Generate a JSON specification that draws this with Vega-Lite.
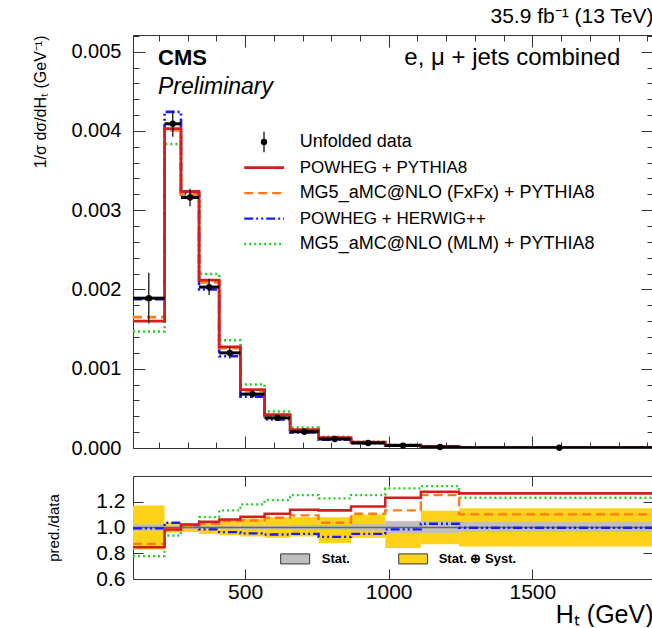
{
"$schema":"https://vega.github.io/schema/vega-lite/v6.json",
"background":"white",
"padding":{"left":32,"top":5,"right":0,"bottom":0},
"config":{"font":"Liberation Sans","view":{"stroke":null},
 "axis":{"grid":false,"labelFont":"Liberation Sans","titleFont":"Liberation Sans","titleFontWeight":"normal","labelColor":"#000","titleColor":"#000","domainColor":"#333","tickColor":"#333","domainWidth":1,"tickWidth":1,"labelFontSize":20},
 "title":{"font":"Liberation Sans","fontWeight":"normal","color":"#000"}},
"datasets":{"bins":[
{"bin":1,"lo":110,"hi":220,"xc":165,"d":0.00189,"dlo":0.001569,"dhi":0.002211,"pp":0.001601,"mf":0.00165,"ph":0.001877,"mm":0.001469,"rpp":0.847,"rmf":0.873,"rph":0.993,"rmm":0.777,"slo":0.975,"shi":1.025,"tlo":0.83,"thi":1.17},
{"bin":2,"lo":220,"hi":277,"xc":248.5,"d":0.00409,"dlo":0.003926,"dhi":0.004254,"pp":0.004029,"mf":0.004008,"ph":0.004241,"mm":0.003836,"rpp":0.985,"rmf":0.98,"rph":1.037,"rmm":0.938,"slo":0.99,"shi":1.01,"tlo":0.96,"thi":1.04},
{"bin":3,"lo":277,"hi":340,"xc":308.5,"d":0.00316,"dlo":0.003049,"dhi":0.003271,"pp":0.003236,"mf":0.003195,"ph":0.003217,"mm":0.003192,"rpp":1.024,"rmf":1.011,"rph":1.018,"rmm":1.01,"slo":0.99,"shi":1.01,"tlo":0.965,"thi":1.035},
{"bin":4,"lo":340,"hi":410,"xc":375,"d":0.00203,"dlo":0.001929,"dhi":0.002132,"pp":0.002119,"mf":0.002089,"ph":0.002,"mm":0.002194,"rpp":1.044,"rmf":1.029,"rph":0.985,"rmm":1.081,"slo":0.99,"shi":1.01,"tlo":0.95,"thi":1.05},
{"bin":5,"lo":410,"hi":484,"xc":447,"d":0.0012,"dlo":0.001128,"dhi":0.001272,"pp":0.001276,"mf":0.00126,"ph":0.001157,"mm":0.00136,"rpp":1.063,"rmf":1.05,"rph":0.964,"rmm":1.133,"slo":0.99,"shi":1.01,"tlo":0.94,"thi":1.06},
{"bin":6,"lo":484,"hi":568,"xc":526,"d":0.00068,"dlo":0.000632,"dhi":0.000728,"pp":0.000736,"mf":0.000717,"ph":0.000649,"mm":0.000802,"rpp":1.083,"rmf":1.055,"rph":0.954,"rmm":1.18,"slo":0.985,"shi":1.015,"tlo":0.93,"thi":1.07},
{"bin":7,"lo":568,"hi":657,"xc":612.5,"d":0.00038,"dlo":0.00035,"dhi":0.00041,"pp":0.000421,"mf":0.0004085,"ph":0.000359,"mm":0.000461,"rpp":1.107,"rmf":1.075,"rph":0.946,"rmm":1.213,"slo":0.985,"shi":1.015,"tlo":0.92,"thi":1.08},
{"bin":8,"lo":657,"hi":756,"xc":706.5,"d":0.000205,"dlo":0.000191,"dhi":0.000221,"pp":0.000233,"mf":0.000224,"ph":0.000195,"mm":0.000257,"rpp":1.138,"rmf":1.094,"rph":0.95,"rmm":1.252,"slo":0.98,"shi":1.02,"tlo":0.93,"thi":1.08},
{"bin":9,"lo":756,"hi":869,"xc":812.5,"d":0.000114,"dlo":0.0001,"dhi":0.000123,"pp":0.000129,"mf":0.000118,"ph":0.0001057,"mm":0.00014,"rpp":1.133,"rmf":1.037,"rph":0.927,"rmm":1.226,"slo":0.98,"shi":1.02,"tlo":0.88,"thi":1.08},
{"bin":10,"lo":869,"hi":988,"xc":928.5,"d":0.000063,"dlo":0.000058,"dhi":0.000069,"pp":0.0000733,"mf":0.0000697,"ph":0.0000599,"mm":0.0000789,"rpp":1.164,"rmf":1.107,"rph":0.95,"rmm":1.252,"slo":0.975,"shi":1.025,"tlo":0.92,"thi":1.1},
{"bin":11,"lo":988,"hi":1112,"xc":1050,"d":0.00003,"dlo":0.000025,"dhi":0.0000315,"pp":0.0000369,"mf":0.000034,"ph":0.0000296,"mm":0.0000391,"rpp":1.231,"rmf":1.133,"rph":0.985,"rmm":1.304,"slo":0.955,"shi":1.045,"tlo":0.84,"thi":1.05},
{"bin":12,"lo":1112,"hi":1245,"xc":1178.5,"d":0.000013,"dlo":0.0000113,"dhi":0.0000147,"pp":0.0000166,"mf":0.0000163,"ph":0.0000134,"mm":0.0000172,"rpp":1.278,"rmf":1.252,"rph":1.029,"rmm":1.322,"slo":0.955,"shi":1.05,"tlo":0.87,"thi":1.13},
{"bin":13,"lo":1245,"hi":2000,"xc":1594,"d":0.0000035,"dlo":0.000003,"dhi":0.000004,"pp":0.0000044,"mf":0.0000039,"ph":0.0000035,"mm":0.0000043,"rpp":1.265,"rmf":1.102,"rph":0.998,"rmm":1.231,"slo":0.966,"shi":1.044,"tlo":0.853,"thi":1.149}
]},
"spacing":28,
"bounds":"flush",
"vconcat":[
{
"width":520,"height":413,
"title":{"text":"35.9 fb⁻¹ (13 TeV)","anchor":"end","fontSize":21,"offset":8},
"data":{"name":"bins"},
"layer":[
 {"transform":[{"fold":["mm","ph","mf","pp"],"as":["model","v"]},{"fold":["lo","hi"],"as":["edge","xe"]}],
  "mark":{"type":"line","clip":true},
  "encoding":{
   "x":{"field":"xe","type":"quantitative","scale":{"domain":[110,1920],"nice":false,"zero":false},
        "axis":{"orient":"bottom","values":[500,1000,1500],"tickSize":-12,"labels":false,"title":null,"domain":true}},
   "y":{"field":"v","type":"quantitative","scale":{"domain":[0,0.00521],"nice":false,"zero":false},
        "axis":{"orient":"left","values":[0,0.001,0.002,0.003,0.004,0.005],"tickSize":-12,"labels":false,"title":null,"domain":true}},
   "color":{"field":"model","type":"nominal","scale":{"domain":["pp","mf","ph","mm"],"range":["#d41e1e","#ff7a1a","#1a1aff","#22d022"]},"legend":null},
   "strokeDash":{"field":"model","type":"nominal","scale":{"domain":["pp","mf","ph","mm"],"range":[[1,0],[9,5],[9,3,2,3,2,3],[2,3]]},"legend":null},
   "strokeWidth":{"field":"model","type":"nominal","scale":{"domain":["pp","mf","ph","mm"],"range":[2.8,2.3,2.3,2.5]},"legend":null},
   "order":[{"field":"xe","type":"quantitative"},{"field":"bin","type":"quantitative"}]
  }},
 {"mark":{"type":"rule","color":"#000","strokeWidth":1.2},
  "encoding":{
   "x":{"field":"xc","type":"quantitative","axis":{"orient":"bottom","values":[200,300,400,600,700,800,900,1100,1200,1300,1400,1600,1700,1800,1900],"tickSize":-6,"labels":false,"title":null,"domain":false}},
   "y":{"field":"dlo","type":"quantitative","axis":{"orient":"left","values":[0.0002,0.0004,0.0006,0.0008,0.0012,0.0014,0.0016,0.0018,0.0022,0.0024,0.0026,0.0028,0.0032,0.0034,0.0036,0.0038,0.0042,0.0044,0.0046,0.0048,0.0052],"tickSize":-6,"labels":false,"title":null,"domain":false}},
   "y2":{"field":"dhi"}}},
 {"mark":{"type":"rule","color":"#000","strokeWidth":3,"clip":true},
  "encoding":{
   "x":{"field":"lo","type":"quantitative","axis":{"orient":"top","values":[200,300,400,600,700,800,900,1100,1200,1300,1400,1600,1700,1800,1900],"tickSize":-6,"labels":false,"title":null,"domain":false}},
   "x2":{"field":"hi"},
   "y":{"field":"d","type":"quantitative","axis":{"orient":"right","values":[0.0002,0.0004,0.0006,0.0008,0.0012,0.0014,0.0016,0.0018,0.0022,0.0024,0.0026,0.0028,0.0032,0.0034,0.0036,0.0038,0.0042,0.0044,0.0046,0.0048,0.0052],"tickSize":-6,"labels":false,"title":null,"domain":false}}}},
 {"mark":{"type":"point","filled":true,"shape":"circle","size":40,"color":"#000","opacity":1},
  "encoding":{
   "x":{"field":"xc","type":"quantitative","axis":{"orient":"top","values":[500,1000,1500],"tickSize":-12,"labels":false,"title":null,"domain":true}},
   "y":{"field":"d","type":"quantitative","axis":{"orient":"right","values":[0,0.001,0.002,0.003,0.004,0.005],"tickSize":-12,"labels":false,"title":null,"domain":true}}}},
 {"data":{"values":[{}]},"mark":{"type":"text","align":"left","baseline":"middle","fontSize":22,"fontWeight":"bold"},
  "encoding":{"x":{"datum":197,"type":"quantitative","axis":null},
   "y":{"datum":0.00492,"type":"quantitative","axis":{"orient":"left","values":[0,0.001,0.002,0.003,0.004,0.005],"format":".3f","ticks":false,"domain":false,"labelPadding":12,"labelFontSize":20,"title":"1/σ dσ/dHₜ (GeV⁻¹)","titleAnchor":"end","titleFontSize":16,"titlePadding":22}},
   "text":{"value":"CMS"}}},
 {"data":{"values":[{}]},"mark":{"type":"text","align":"left","baseline":"middle","fontSize":23,"fontStyle":"italic"},
  "encoding":{"x":{"datum":197,"type":"quantitative","axis":null},"y":{"datum":0.00456,"type":"quantitative","axis":null},"text":{"value":"Preliminary"}}},
 {"data":{"values":[{}]},"mark":{"type":"text","align":"right","baseline":"middle","fontSize":24},
  "encoding":{"x":{"datum":1806,"type":"quantitative","axis":null},"y":{"datum":0.00492,"type":"quantitative","axis":null},"text":{"value":"e, μ + jets combined"}}},
 {"data":{"values":[{}]},"mark":{"type":"rule","color":"#000","strokeWidth":1.2},
  "encoding":{"x":{"datum":566,"type":"quantitative","axis":null},"y":{"datum":0.00373,"type":"quantitative","axis":null},"y2":{"datum":0.00399}}},
 {"data":{"values":[{}]},"mark":{"type":"point","filled":true,"shape":"circle","size":40,"color":"#000","opacity":1},
  "encoding":{"x":{"datum":566,"type":"quantitative","axis":null},"y":{"datum":0.00386,"type":"quantitative","axis":null}}},
 {"data":{"values":[{}]},"mark":{"type":"rule","color":"#d41e1e","strokeWidth":2.8},
  "encoding":{"x":{"datum":497,"type":"quantitative","axis":null},"x2":{"datum":636},"y":{"datum":0.003538,"type":"quantitative","axis":null}}},
 {"data":{"values":[{}]},"mark":{"type":"rule","color":"#ff7a1a","strokeWidth":2.3,"strokeDash":[9,5]},
  "encoding":{"x":{"datum":497,"type":"quantitative","axis":null},"x2":{"datum":636},"y":{"datum":0.003216,"type":"quantitative","axis":null}}},
 {"data":{"values":[{}]},"mark":{"type":"rule","color":"#1a1aff","strokeWidth":2.3,"strokeDash":[9,3,2,3,2,3]},
  "encoding":{"x":{"datum":497,"type":"quantitative","axis":null},"x2":{"datum":636},"y":{"datum":0.002894,"type":"quantitative","axis":null}}},
 {"data":{"values":[{}]},"mark":{"type":"rule","color":"#22d022","strokeWidth":2.5,"strokeDash":[2,3]},
  "encoding":{"x":{"datum":497,"type":"quantitative","axis":null},"x2":{"datum":636},"y":{"datum":0.002572,"type":"quantitative","axis":null}}},
 {"data":{"values":[{}]},"mark":{"type":"text","align":"left","baseline":"middle","fontSize":18},
  "encoding":{"x":{"datum":690,"type":"quantitative","axis":null},"y":{"datum":0.00386,"type":"quantitative","axis":null},"text":{"value":"Unfolded data"}}},
 {"data":{"values":[{}]},"mark":{"type":"text","align":"left","baseline":"middle","fontSize":17},
  "encoding":{"x":{"datum":690,"type":"quantitative","axis":null},"y":{"datum":0.003538,"type":"quantitative","axis":null},"text":{"value":"POWHEG + PYTHIA8"}}},
 {"data":{"values":[{}]},"mark":{"type":"text","align":"left","baseline":"middle","fontSize":18},
  "encoding":{"x":{"datum":690,"type":"quantitative","axis":null},"y":{"datum":0.003216,"type":"quantitative","axis":null},"text":{"value":"MG5_aMC@NLO (FxFx) + PYTHIA8"}}},
 {"data":{"values":[{}]},"mark":{"type":"text","align":"left","baseline":"middle","fontSize":17},
  "encoding":{"x":{"datum":690,"type":"quantitative","axis":null},"y":{"datum":0.002894,"type":"quantitative","axis":null},"text":{"value":"POWHEG + HERWIG++"}}},
 {"data":{"values":[{}]},"mark":{"type":"text","align":"left","baseline":"middle","fontSize":18},
  "encoding":{"x":{"datum":690,"type":"quantitative","axis":null},"y":{"datum":0.002572,"type":"quantitative","axis":null},"text":{"value":"MG5_aMC@NLO (MLM) + PYTHIA8"}}}
],
"resolve":{"axis":{"x":"independent","y":"independent"}}
},
{
"width":520,"height":103,
"data":{"name":"bins"},
"layer":[
 {"mark":{"type":"rect","color":"#ffd21a","clip":true},
  "encoding":{
   "x":{"field":"lo","type":"quantitative","scale":{"domain":[110,1920],"nice":false,"zero":false},
        "axis":{"orient":"bottom","values":[500,1000,1500],"tickSize":-10,"labels":false,"title":null,"domain":true}},
   "x2":{"field":"hi"},
   "y":{"field":"tlo","type":"quantitative","scale":{"domain":[0.6,1.4],"nice":false,"zero":false},
        "axis":{"orient":"left","values":[0.6,0.8,1.0,1.2],"tickSize":-10,"labels":false,"title":null,"domain":true}},
   "y2":{"field":"thi"}}},
 {"mark":{"type":"rect","color":"#bfbfbf","clip":true},
  "encoding":{
   "x":{"field":"lo","type":"quantitative","axis":{"orient":"top","values":[500,1000,1500],"tickSize":-10,"labels":false,"title":null,"domain":true}},
   "x2":{"field":"hi"},
   "y":{"field":"slo","type":"quantitative","axis":{"orient":"right","values":[0.6,0.8,1.0,1.2],"tickSize":-10,"labels":false,"title":null,"domain":true}},
   "y2":{"field":"shi"}}},
 {"data":{"values":[{}]},"mark":{"type":"rule","color":"#666","strokeWidth":1.5},
  "encoding":{"y":{"datum":1,"type":"quantitative","axis":null}}},
 {"transform":[{"fold":["rmm","rph","rmf","rpp"],"as":["model","v"]},{"fold":["lo","hi"],"as":["edge","xe"]}],
  "mark":{"type":"line","clip":true},
  "encoding":{
   "x":{"field":"xe","type":"quantitative","axis":null},
   "y":{"field":"v","type":"quantitative","axis":null},
   "color":{"field":"model","type":"nominal","scale":{"domain":["rpp","rmf","rph","rmm"],"range":["#d41e1e","#ff7a1a","#1a1aff","#22d022"]},"legend":null},
   "strokeDash":{"field":"model","type":"nominal","scale":{"domain":["rpp","rmf","rph","rmm"],"range":[[1,0],[9,5],[9,3,2,3,2,3],[2,3]]},"legend":null},
   "strokeWidth":{"field":"model","type":"nominal","scale":{"domain":["rpp","rmf","rph","rmm"],"range":[2.8,2.3,2.3,2.5]},"legend":null},
   "order":[{"field":"xe","type":"quantitative"},{"field":"bin","type":"quantitative"}]
  }},
 {"data":{"values":[{}]},"mark":{"type":"rect","color":"#bfbfbf","stroke":"#333","strokeWidth":1},
  "encoding":{"x":{"datum":624,"type":"quantitative","axis":null},"x2":{"datum":725},"y":{"datum":0.717,"type":"quantitative","axis":null},"y2":{"datum":0.795}}},
 {"data":{"values":[{}]},"mark":{"type":"rect","color":"#ffd21a","stroke":"#333","strokeWidth":1},
  "encoding":{"x":{"datum":1035,"type":"quantitative","axis":null},"x2":{"datum":1135},"y":{"datum":0.717,"type":"quantitative","axis":null},"y2":{"datum":0.795}}},
 {"data":{"values":[{}]},"mark":{"type":"text","align":"left","baseline":"middle","fontSize":13,"fontWeight":"bold"},
  "encoding":{
   "x":{"datum":767,"type":"quantitative","axis":{"orient":"bottom","values":[500,1000,1500],"format":"d","ticks":false,"domain":false,"labelPadding":2,"labelFontSize":21,"title":"Hₜ (GeV)","titleAnchor":"end","titleFontSize":25,"titlePadding":0}},
   "y":{"datum":0.756,"type":"quantitative","axis":{"orient":"left","values":[0.6,0.8,1.0,1.2],"format":".1f","ticks":false,"domain":false,"labelPadding":8,"labelFontSize":21,"title":"pred./data","titleFontSize":15,"titlePadding":34}},
   "text":{"value":"Stat."}}},
 {"data":{"values":[{}]},"mark":{"type":"text","align":"left","baseline":"middle","fontSize":13,"fontWeight":"bold"},
  "encoding":{"x":{"datum":1174,"type":"quantitative","axis":null},"y":{"datum":0.756,"type":"quantitative","axis":null},"text":{"value":"Stat. ⊕ Syst."}}}
],
"resolve":{"axis":{"x":"independent","y":"independent"}}
}
]
}
